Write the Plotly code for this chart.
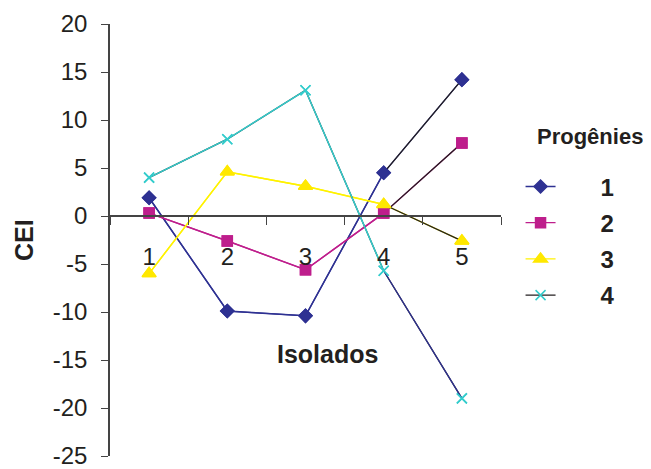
import plotly.graph_objects as go

categories = ["1", "2", "3", "4", "5"]
series_names = ["1", "2", "3", "4"]
s1 = [1.9, -9.9, -10.4, 4.5, 14.2]
s2 = [0.3, -2.6, -5.6, 0.3, 7.6]
s3 = [-6.0, 4.6, 3.1, 1.2, -2.6]
s4 = [4.0, 8.0, 13.1, -5.7, -19.0]
y_ticks = [-25, -20, -15, -10, -5, 0, 5, 10, 15, 20]
y_ticktext = [str(v) for v in y_ticks]

series = [s1, s2, s3, s4]
seg_colors = ["#2E3192", "#BE1E8C", "#FFF200", "#33CCCC"]
last_colors = ["#231F20", "#231F20", "#231F20", "#2E3192"]
legend_colors = ["#2E3192", "#BE1E8C", "#FFF200", "#231F20"]
marker_colors = ["#2E3192", "#BE1E8C", "#FFE800", "#33CCCC"]
symbols = ["diamond", "square", "triangle-up", "x-thin"]
sizes = [10, 10, 12, 10]

FONT = "Arial, Liberation Sans, sans-serif"
TXT = "#231F20"
NB = "\u00a0"
fig = go.Figure()

for i, vals in enumerate(series):
    mk = dict(symbol=symbols[i], size=sizes[i], color=marker_colors[i],
              line=dict(color=marker_colors[i], width=1.5))
    fig.add_trace(go.Scatter(x=categories, y=vals, mode="lines+markers",
                             name=NB * 6 + series_names[i],
                             line=dict(color=legend_colors[i], width=1.3),
                             marker=mk, legendgroup=str(i)))
    fig.add_trace(go.Scatter(x=categories[:4], y=vals[:4], mode="lines",
                             line=dict(color=seg_colors[i], width=1.5),
                             showlegend=False, hoverinfo="skip"))
    fig.add_trace(go.Scatter(x=categories[3:], y=vals[3:], mode="lines",
                             line=dict(color=last_colors[i], width=1.3),
                             showlegend=False, hoverinfo="skip"))

for i, vals in enumerate(series):
    mk = dict(symbol=symbols[i], size=sizes[i], color=marker_colors[i],
              line=dict(color=marker_colors[i], width=1.5))
    fig.add_trace(go.Scatter(x=categories, y=vals, mode="markers", marker=mk,
                             showlegend=False))

y0_frac = 25 / 45

fig.update_layout(
    width=643, height=461,
    margin=dict(l=102, r=150, t=16, b=13),
    paper_bgcolor="white", plot_bgcolor="white",
    font=dict(family=FONT, color=TXT),
    showlegend=True,
    legend=dict(
        x=1.05, y=0.675, xanchor="left", yanchor="top",
        font=dict(size=24, family=FONT, color=TXT, weight="bold"),
        tracegroupgap=2,
        bgcolor="rgba(0,0,0,0)",
    ),
    xaxis=dict(
        type="category", range=[-0.5, 4.5],
        anchor="free", position=y0_frac, automargin=False,
        showline=True, linecolor="#444444", linewidth=1.5,
        ticks="outside", ticklen=8, tickcolor="#444444", tickwidth=1.3,
        tickson="boundaries",
        showgrid=False, zeroline=False,
        tickfont=dict(size=24, family=FONT, color=TXT),
        ticklabelstandoff=19,
    ),
    yaxis=dict(
        range=[-25, 20], tickvals=y_ticks, ticktext=y_ticktext, automargin=False,
        ticklabeloverflow="allow",
        showline=True, linecolor="#444444", linewidth=1.5,
        ticks="outside", ticklen=7, tickcolor="#444444", tickwidth=1.3,
        showgrid=False, zeroline=False,
        tickfont=dict(size=24, family=FONT, color=TXT),
        ticklabelstandoff=9,
    ),
    annotations=[
        dict(text="<b>Isolados</b>", x=0.555, y=0.237, xref="paper", yref="paper",
             showarrow=False, font=dict(size=25, family=FONT, color=TXT),
             xanchor="center", yanchor="middle"),
        dict(text="<b>CEI</b>", x=-0.22, y=0.5, xref="paper", yref="paper",
             showarrow=False, textangle=-90, font=dict(size=25, family=FONT, color=TXT),
             xanchor="center", yanchor="middle"),
        dict(text="<b>Progênies</b>", x=1.227, y=0.7396, xref="paper", yref="paper",
             showarrow=False, font=dict(size=22, family=FONT, color=TXT),
             xanchor="center", yanchor="middle"),
    ],
)

fig.write_html("out.html")
